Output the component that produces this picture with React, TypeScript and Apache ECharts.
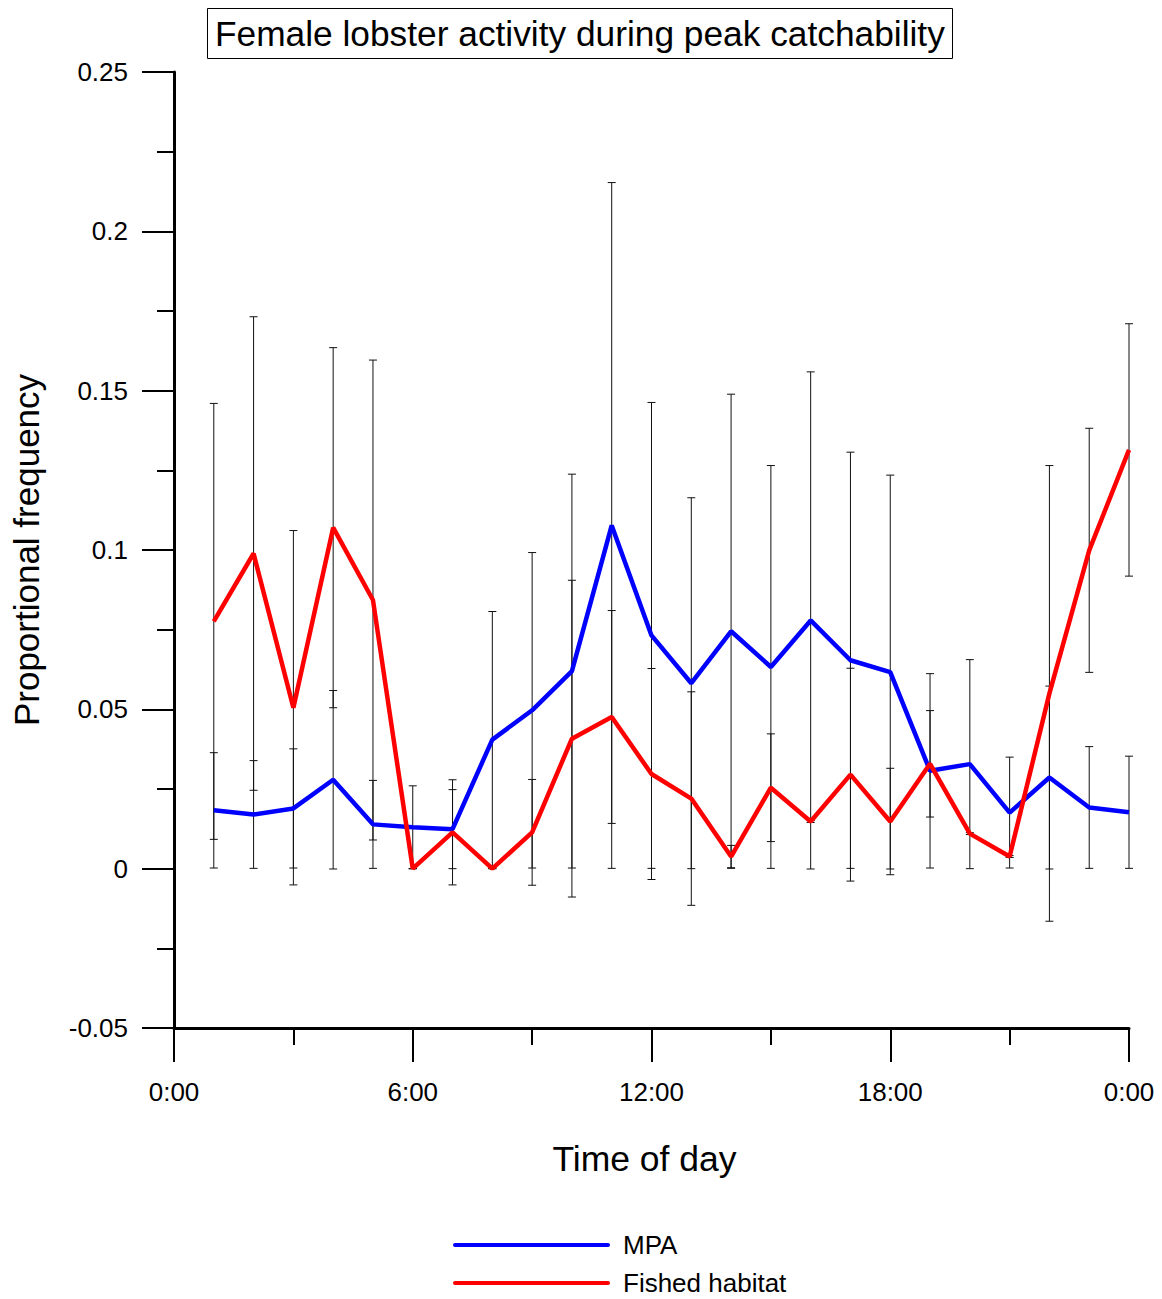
import React, { useEffect, useRef } from "react";
import * as echarts from "echarts";

const hours = [1, 2, 3, 4, 5, 6, 7, 8, 9, 10, 11, 12, 13, 14, 15, 16, 17, 18, 19, 20, 21, 22, 23, 24];
const mpaValues = [0.0183, 0.017, 0.0189, 0.0279, 0.0139, 0.013, 0.0124, 0.0405, 0.0497, 0.062, 0.1077, 0.0732, 0.0582, 0.0745, 0.0633, 0.0779, 0.0654, 0.0617, 0.0307, 0.0328, 0.0176, 0.0286, 0.0192, 0.0177];
const mpaErrors = [0.0181, 0.0169, 0.0187, 0.028, 0.0138, 0.013, 0.0124, 0.0402, 0.0495, 0.0618, 0.1076, 0.0731, 0.0582, 0.0744, 0.0632, 0.078, 0.0653, 0.0618, 0.0305, 0.0328, 0.0174, 0.0287, 0.0191, 0.0176];
const fishedValues = [0.0776, 0.0989, 0.0505, 0.107, 0.0843, 0, 0.0114, 0, 0.0114, 0.0408, 0.0476, 0.0297, 0.022, 0.0038, 0.0254, 0.0148, 0.0295, 0.0148, 0.0329, 0.011, 0.0038, 0.055, 0.0999, 0.1314];
const fishedErrors = [0.0684, 0.0743, 0.0556, 0.0565, 0.0753, 0, 0.0165, 0, 0.0166, 0.0497, 0.0334, 0.0331, 0.0335, 0.0035, 0.0169, 0.0003, 0.0334, 0.0167, 0.0167, 0.0003, 0.0003, 0.0715, 0.0383, 0.0396];
const xTickLabels: Record<number, string> = { 0: "0:00", 6: "6:00", 12: "12:00", 18: "18:00", 24: "0:00" };
const seriesNames = ["MPA", "Fished habitat"];
const seriesColors = ["#0000ff", "#ff0000"];

const FONT = "'Liberation Sans', Arial, sans-serif";

function errorRenderItem(params: any, api: any) {
  const x = api.value(0);
  const lo = api.value(1);
  const hi = api.value(2);
  const pHi = api.coord([x, hi]);
  const pLo = api.coord([x, lo]);
  const hw = 4;
  const style = { stroke: "#111", lineWidth: 1 };
  return {
    type: "group",
    children: [
      { type: "line", shape: { x1: pHi[0], y1: pHi[1], x2: pLo[0], y2: pLo[1] }, style },
      { type: "line", shape: { x1: pHi[0] - hw, y1: pHi[1], x2: pHi[0] + hw, y2: pHi[1] }, style },
      { type: "line", shape: { x1: pLo[0] - hw, y1: pLo[1], x2: pLo[0] + hw, y2: pLo[1] }, style },
    ],
  };
}

export default function App() {
  const ref = useRef<HTMLDivElement>(null);
  useEffect(() => {
    if (!ref.current) return;
    const chart = echarts.init(ref.current, null, { renderer: "svg" });
    const mpaErr = hours.map((h, i) => [h, mpaValues[i] - mpaErrors[i], mpaValues[i] + mpaErrors[i]]);
    const fishedErr = hours.map((h, i) => [h, fishedValues[i] - fishedErrors[i], fishedValues[i] + fishedErrors[i]]);
    const legendGraphics: any[] = [];
    seriesNames.forEach((name, i) => {
      const y = 1245 + i * 38;
      legendGraphics.push({
        type: "line",
        shape: { x1: 455, y1: y, x2: 608, y2: y },
        style: { stroke: seriesColors[i], lineWidth: 4, lineCap: "round" },
      });
      legendGraphics.push({
        type: "text",
        x: 623,
        y: y,
        style: { text: name, fontFamily: FONT, fontSize: 26, fill: "#000", textVerticalAlign: "middle", verticalAlign: "middle" },
      });
    });
    chart.setOption({
      animation: false,
      textStyle: { fontFamily: FONT },
      title: {
        text: "Female lobster activity during peak catchability",
        left: 207,
        top: 8,
        padding: [7, 8, 7, 8],
        borderColor: "#000",
        borderWidth: 1,
        textStyle: { fontFamily: FONT, fontSize: 35.3, fontWeight: "normal", color: "#000", lineHeight: 37 },
      },
      graphic: legendGraphics,
      grid: { left: 174, right: 33, top: 72, bottom: 271, containLabel: false },
      xAxis: {
        type: "value",
        min: 0,
        max: 24,
        interval: 6,
        name: "Time of day",
        nameLocation: "middle",
        nameGap: 113,
        nameTextStyle: { fontFamily: FONT, fontSize: 35.5, color: "#000", padding: [0, 14, 0, 0] },
        axisLine: { onZero: false, lineStyle: { color: "#000", width: 3 } },
        axisTick: { show: true, length: 34, lineStyle: { color: "#000", width: 2 } },
        minorTick: { show: true, splitNumber: 2, length: 17, lineStyle: { color: "#000", width: 2 } },
        axisLabel: {
          margin: 51,
          fontFamily: FONT,
          fontSize: 26,
          color: "#000",
          formatter: (v: number) => xTickLabels[v] ?? "",
        },
        splitLine: { show: false },
      },
      yAxis: {
        type: "value",
        min: -0.05,
        max: 0.25,
        interval: 0.05,
        name: "Proportional frequency",
        nameLocation: "middle",
        nameGap: 130,
        nameTextStyle: { fontFamily: FONT, fontSize: 35, color: "#000" },
        axisLine: { show: true, lineStyle: { color: "#000", width: 3 } },
        axisTick: { show: true, length: 32, lineStyle: { color: "#000", width: 2 } },
        minorTick: { show: true, splitNumber: 2, length: 17, lineStyle: { color: "#000", width: 2 } },
        axisLabel: {
          margin: 46,
          fontFamily: FONT,
          fontSize: 26,
          color: "#000",
          formatter: (v: number) => String(Math.round(v * 1000) / 1000),
        },
        splitLine: { show: false },
      },
      series: [
        {
          type: "custom",
          name: "MPA err",
          renderItem: errorRenderItem,
          data: mpaErr,
          z: 1,
          silent: true,
        },
        {
          type: "custom",
          name: "Fished err",
          renderItem: errorRenderItem,
          data: fishedErr,
          z: 1,
          silent: true,
        },
        {
          type: "line",
          name: seriesNames[0],
          data: hours.map((h, i) => [h, mpaValues[i]]),
          symbol: "none",
          lineStyle: { color: seriesColors[0], width: 4.5 },
          itemStyle: { color: seriesColors[0] },
          z: 3,
        },
        {
          type: "line",
          name: seriesNames[1],
          data: hours.map((h, i) => [h, fishedValues[i]]),
          symbol: "none",
          lineStyle: { color: seriesColors[1], width: 4.5 },
          itemStyle: { color: seriesColors[1] },
          z: 4,
        },
      ],
    });
    return () => chart.dispose();
  }, []);
  return (
    <div
      ref={ref}
      style={{ position: "absolute", left: 0, top: 0, width: 1162, height: 1299, background: "#fff" }}
    />
  );
}
